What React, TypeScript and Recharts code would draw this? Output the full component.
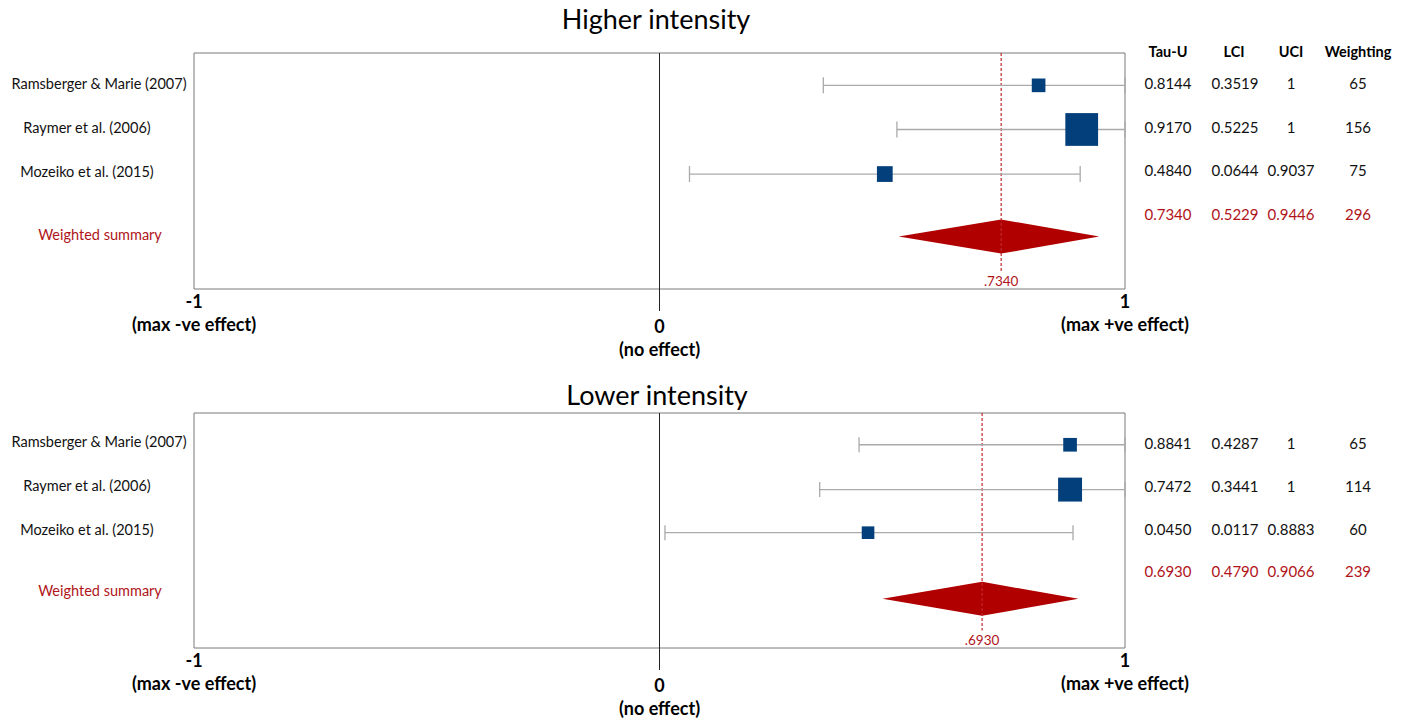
import React from 'react';
import { ComposedChart, Scatter, Area, XAxis, YAxis, ReferenceLine, ReferenceArea, ReferenceDot, ErrorBar } from 'recharts';

const studies = ['Ramsberger & Marie (2007)', 'Raymer et al. (2006)', 'Mozeiko et al. (2015)'];
const summaryLabel = 'Weighted summary';
const tableHeader = ['Tau-U', 'LCI', 'UCI', 'Weighting'];

const highEst = [0.8144, 0.907, 0.484];
const highLci = [0.3519, 0.51, 0.0644];
const highUci = [1, 1, 0.9037];
const highWeight = [65, 156, 75];
const highSummary = [0.734, 0.514, 0.9446]; // estimate, lci, uci

// plotted marks, lower intensity
const lowEst = [0.882, 0.882, 0.448];
const lowLci = [0.4287, 0.3441, 0.0117];
const lowUci = [1, 1, 0.8883];
const lowWeight = [65, 114, 60];
const lowSummary = [0.693, 0.479, 0.9];

// table text
const highTau = ['0.8144', '0.9170', '0.4840', '0.7340'];
const highL = ['0.3519', '0.5225', '0.0644', '0.5229'];
const highU = ['1', '1', '0.9037', '0.9446'];
const highW = ['65', '156', '75', '296'];
const lowTau = ['0.8841', '0.7472', '0.0450', '0.6930'];
const lowL = ['0.4287', '0.3441', '0.0117', '0.4790'];
const lowU = ['1', '1', '0.8883', '0.9066'];
const lowW = ['65', '114', '60', '239'];

const xTicks = [-1, 0, 1];
const xTickLabels = ['(max -ve effect)', '(no effect)', '(max +ve effect)'];

const FONT = 'Lato, "Open Sans", sans-serif';
const RED = '#b00000';
const TEXT_RED = '#b0141a';
const NAVY = '#033f7a';
const Y_DOMAIN: [number, number] = [0, 5.4];
const SQUARE_SCALE = 0.21;
const DIAMOND_HALF = 0.39;
const labelCenters = [99, 87, 87, 100];
const colCenters = [1168, 1235, 1291, 1358];

const XTick = (props: any) => {
  const { x, y, payload } = props;
  const v = payload.value;
  const i = xTicks.indexOf(v);
  const zero = v === 0;
  const top = zero ? y + 37 : y + 12;
  return (
    <g>
      {zero && <line x1={x} x2={x} y1={y} y2={y + 22} stroke="#222" strokeWidth={1} />}
      <text x={x} y={top} textAnchor="middle" dominantBaseline="central" fontSize={18} fontWeight="bold" fill="#000" fontFamily={FONT}>
        {v}
      </text>
      <text x={x} y={top + 23} textAnchor="middle" dominantBaseline="central" fontSize={18} fontWeight="bold" fill="#000" fontFamily={FONT}>
        {xTickLabels[i]}
      </text>
    </g>
  );
};

const Square = (props: any) => {
  const { cx, cy, payload } = props;
  const s = payload.w * SQUARE_SCALE;
  return <rect x={cx - s / 2} y={cy - s / 2} width={s} height={s} fill={NAVY} />;
};

type PanelProps = {
  height: number;
  est: number[];
  lci: number[];
  uci: number[];
  weight: number[];
  summary: number[];
  label: string;
  rows: number[];
  sumRow: number;
  labelRows: number[];
  cap: number;
};

function Panel(p: PanelProps) {
  const points = p.est.map((v, i) => ({ x: v, y: p.rows[i], err: [v - p.lci[i], p.uci[i] - v], w: p.weight[i] }));
  const diamond = [
    { x: p.summary[1], band: [p.sumRow, p.sumRow] },
    { x: p.summary[0], band: [p.sumRow - DIAMOND_HALF, p.sumRow + DIAMOND_HALF] },
    { x: p.summary[2], band: [p.sumRow, p.sumRow] },
  ];
  const names = [...studies, summaryLabel];

  const LeftTick = (tp: any) => {
    const i = p.labelRows.indexOf(tp.payload.value);
    return (
      <text x={labelCenters[i]} y={tp.y} textAnchor="middle" dominantBaseline="central" fontSize={14.5} fill={i === 3 ? TEXT_RED : '#111'} fontFamily={FONT}>
        {names[i]}
      </text>
    );
  };

  return (
    <ComposedChart width={1407} height={p.height} data={diamond} margin={{ top: 53, right: 282, bottom: 0, left: 0 }}>
      <XAxis type="number" dataKey="x" domain={[-1, 1]} ticks={xTicks} interval={0} height={71} axisLine={false} tickLine={false} tickSize={0} tickMargin={0} tick={<XTick />} />
      <YAxis yAxisId="rows" type="number" dataKey="y" domain={Y_DOMAIN} reversed width={194} ticks={p.labelRows} interval={0} axisLine={false} tickLine={false} tick={<LeftTick />} />
      <ReferenceArea yAxisId="rows" x1={-1} x2={1} y1={Y_DOMAIN[0]} y2={Y_DOMAIN[1]} fill="none" stroke="#7a7a7a" strokeWidth={1} ifOverflow="visible" />
      <ReferenceLine yAxisId="rows" x={0} stroke="#222" strokeWidth={1} />
      <ReferenceLine
        yAxisId="rows"
        segment={[{ x: p.summary[0], y: 0 }, { x: p.summary[0], y: 5.0 }]}
        stroke="#c0282d"
        strokeDasharray="3 2"
        strokeWidth={1.2}
      />
      <Area yAxisId="rows" type="linear" dataKey="band" stroke="none" fill={RED} fillOpacity={1} dot={false} activeDot={false} isAnimationActive={false} />
      <Scatter yAxisId="rows" data={points} shape={<Square />} isAnimationActive={false}>
        <ErrorBar dataKey="err" direction="x" width={p.cap} stroke="#aaaaaa" strokeWidth={1.3} isAnimationActive={false} />
      </Scatter>
      <ReferenceDot
        yAxisId="rows"
        x={p.summary[0]}
        y={5.22}
        r={0}
        fill="none"
        stroke="none"
        label={{ value: p.label, position: 'center', fill: TEXT_RED, fontSize: 13.5, fontFamily: FONT }}
      />
    </ComposedChart>
  );
}

function Table({ rowsY, cols }: { rowsY: number[]; cols: string[][] }) {
  return (
    <g>
      {rowsY.map((y, i) =>
        cols.map((col, k) => (
          <text key={`${i}-${k}`} x={colCenters[k]} y={y} textAnchor="middle" dominantBaseline="central" fontSize={15} fill={i === 3 ? TEXT_RED : '#111'} fontFamily={FONT}>
            {col[i]}
          </text>
        ))
      )}
    </g>
  );
}

export default function App() {
  return (
    <div style={{ position: 'absolute', left: 0, top: 0, width: 1407, height: 719, background: '#fff', fontFamily: FONT }}>
      <div style={{ position: 'absolute', left: 0, top: 0 }}>
        <Panel
          height={360}
          est={highEst}
          lci={highLci}
          uci={highUci}
          weight={highWeight}
          summary={highSummary}
          label={highTau[3].slice(1)}
          rows={[0.74, 1.75, 2.77]}
          sumRow={4.2}
          labelRows={[0.69, 1.7, 2.71, 4.15]}
          cap={8}
        />
      </div>
      <div style={{ position: 'absolute', left: 0, top: 360 }}>
        <Panel
          height={359}
          est={lowEst}
          lci={lowLci}
          uci={lowUci}
          weight={lowWeight}
          summary={lowSummary}
          label={lowTau[3].slice(1)}
          rows={[0.73, 1.76, 2.75]}
          sumRow={4.27}
          labelRows={[0.66, 1.67, 2.68, 4.08]}
          cap={7.5}
        />
      </div>
      <svg width={1407} height={719} style={{ position: 'absolute', left: 0, top: 0, pointerEvents: 'none' }}>
        <text x={656} y={29} textAnchor="middle" fontSize={27} fill="#000" fontFamily={FONT}>Higher intensity</text>
        <text x={657} y={405} textAnchor="middle" fontSize={27} fill="#000" fontFamily={FONT}>Lower intensity</text>
        {tableHeader.map((h, k) => (
          <text key={h} x={colCenters[k] - (k === 1 ? 1 : 0)} y={51} textAnchor="middle" dominantBaseline="central" fontSize={14.5} fontWeight="bold" fill="#000" fontFamily={FONT}>
            {h}
          </text>
        ))}
        <Table rowsY={[83.3, 126.7, 170, 214.3]} cols={[highTau, highL, highU, highW]} />
        <Table rowsY={[442.7, 486, 529.3, 570.7]} cols={[lowTau, lowL, lowU, lowW]} />
      </svg>
    </div>
  );
}
